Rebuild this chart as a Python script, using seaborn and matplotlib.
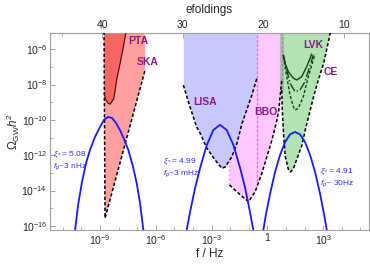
import numpy as np
import matplotlib
matplotlib.use('Agg')
import matplotlib.pyplot as plt
from matplotlib.ticker import FixedLocator, NullFormatter
import seaborn as sns

# all values are log10 of f [Hz] and log10 of Omega_GW h^2
pta_logf = [-8.78, -8.68, -8.57, -8.46, -8.35, -8.27, -8.19, -8.09, -7.92, -7.76, -7.60]
pta_logomega = [-8.49, -8.88, -9.05, -9.11, -8.94, -8.82, -8.32, -7.64, -6.79, -5.94, -5.00]

ska_logf = [-8.785, -8.731, -6.58, -6.58]
ska_logomega = [-5.00, -15.56, -7.19, -5.00]

lisa_logf = [-4.52, -4.16, -3.80, -3.62, -3.26, -2.81, -2.45, -2.27, -1.91, -1.64, -1.38, -0.84, -0.55]
lisa_logomega = [-8.03, -9.28, -10.41, -10.75, -11.59, -12.27, -12.74, -12.66, -12.08, -11.33, -10.24, -8.60, -7.58]

bbo_logf = [-2.04, -1.57, -1.02, -0.66, -0.30, -0.03, 0.24, 0.51, 0.61, 0.69, 0.77]
bbo_logomega = [-13.68, -14.14, -14.63, -14.06, -13.02, -12.08, -11.14, -10.01, -9.45, -8.60, -7.75]
bbo_split_logf = -0.55

ce_logf = [0.77, 0.77, 0.80, 0.87, 0.96, 1.12, 1.23, 1.39, 1.60, 1.86, 2.03, 2.48, 2.73, 3.02, 3.34, 3.38]
ce_logomega = [-5.00, -8.32, -9.45, -10.86, -12.08, -12.78, -12.95, -12.78, -12.16, -11.42, -10.58,
               -8.69, -7.75, -6.81, -5.27, -5.00]

lvk_o3_logf = [0.855, 0.946, 1.124, 1.392, 1.575, 1.844, 2.113, 2.382]
lvk_o3_logomega = [-6.32, -6.79, -7.27, -7.64, -7.74, -7.55, -6.98, -6.27]
lvk_o4_logf = [0.855, 1.038, 1.215, 1.484, 1.753, 2.022, 2.468]
lvk_o4_logomega = [-6.32, -7.17, -7.92, -8.40, -8.30, -7.83, -6.32]
lvk_design_logf = [0.855, 1.038, 1.215, 1.392, 1.484, 1.661, 1.930, 2.199, 2.559]
lvk_design_logomega = [-6.42, -7.55, -8.59, -9.25, -9.44, -9.34, -8.68, -7.55, -6.27]

gw1_logf = [-10.34, -10.18, -9.98, -9.75, -9.54, -9.27, -9.00, -8.79, -8.57, -8.36, -8.14, -7.93,
            -7.71, -7.48, -7.25, -7.03, -6.85, -6.67]
gw1_logomega = [-16.23, -14.82, -13.57, -12.44, -11.70, -10.96, -10.40, -10.00, -9.83, -9.89, -10.17,
                -10.57, -11.08, -11.70, -12.55, -13.57, -14.70, -16.23]
gw2_logf = [-4.34, -4.16, -3.89, -3.62, -3.26, -2.91, -2.55, -2.19, -1.83, -1.47, -1.20, -0.94, -0.76]
gw2_logomega = [-16.23, -15.21, -13.85, -12.72, -11.42, -10.57, -10.28, -10.57, -11.42, -12.72, -13.85,
                -15.21, -16.23]
gw3_logf = [-0.22, -0.075, 0.14, 0.41, 0.68, 0.95, 1.215, 1.484, 1.753, 2.02, 2.29, 2.56, 2.83, 3.04, 3.19]
gw3_logomega = [-16.23, -15.32, -14.19, -12.94, -11.98, -11.25, -10.82, -10.68, -10.82, -11.25, -11.98,
                -12.94, -14.19, -15.32, -16.23]

x_ticks = [-9, -6, -3, 0, 3]
x_tick_labels = [r'$10^{-9}$', r'$10^{-6}$', r'$10^{-3}$', '1', r'$10^{3}$']
y_ticks = [-16, -14, -12, -10, -8, -6]
efold_ticks = [10, 20, 30, 40]
efold_minor = [15, 25, 35, 45]
efold_ref_n = 25
efold_ref_f = 10 ** -2.376

sns.set_style('white')
plt.rcParams['font.family'] = ['Liberation Sans', 'DejaVu Sans']
plt.rcParams['mathtext.fontset'] = 'custom'
plt.rcParams['mathtext.rm'] = 'Liberation Sans'
plt.rcParams['mathtext.it'] = 'Liberation Sans:italic'
plt.rcParams['mathtext.bf'] = 'Liberation Sans:bold'


def p(v):
    return 10.0 ** np.asarray(v, dtype=float)


fig = plt.figure(figsize=(3.7, 2.65), dpi=100)
ax = fig.add_axes([0.1351, 0.1321, 0.8622, 0.7434])
ax.set_xscale('log')
ax.set_yscale('log')
top = p(-5.0)

# regions
ax.fill(p(ska_logf), p(ska_logomega), color='#ffa0a0', lw=0, zorder=1)
ax.fill_between(p(pta_logf), p(pta_logomega), top, color='#f76565', lw=0, zorder=1.5)
ax.fill_between(p(bbo_logf), p(bbo_logomega), top, color='#ffc8ff', lw=0, zorder=1)
ax.fill_between(p(lisa_logf), p(lisa_logomega), top, color='#c8c8fa', lw=0, zorder=1.5)
ax.fill(p(ce_logf), p(ce_logomega), color='#b3e3b3', lw=0, zorder=1)

dash = (0, (2.2, 1.4))
# region edges
ax.plot(p(ska_logf[:3]), p(ska_logomega[:3]), color='black', lw=1.1, ls=dash, zorder=3)
ax.plot(p(ska_logf[2:]), p(ska_logomega[2:]), color='#ffe4e4', lw=1.0, ls=dash, zorder=3)
ax.plot(p(pta_logf), p(pta_logomega), color='#4a0a0a', lw=0.8, zorder=3)
ax.plot(p(lisa_logf), p(lisa_logomega), color='black', lw=1.1, ls=dash, zorder=3)
ax.plot(p(bbo_logf), p(bbo_logomega), color='black', lw=1.1, ls=dash, zorder=3)
bbo_edge_top = np.interp(bbo_logf[0], lisa_logf, lisa_logomega)
ax.plot(p([bbo_logf[0], bbo_logf[0]]), p([bbo_logomega[0], bbo_edge_top]),
        color='#ff99ff', lw=0.9, ls=dash, zorder=2)
split_bottom = np.interp(bbo_split_logf, bbo_logf, bbo_logomega)
ax.plot(p([bbo_split_logf, bbo_split_logf]), [p(split_bottom), top],
        color='#e070f0', lw=0.9, ls=dash, zorder=2)
ax.plot(p(ce_logf[:2]), p(ce_logomega[:2]), color='#b8b8b8', lw=3.0, zorder=2)
ax.plot(p(ce_logf[:2]), p(ce_logomega[:2]), color='#909090', lw=0.9, ls=dash, zorder=2.2)
ax.plot(p(ce_logf[1:]), p(ce_logomega[1:]), color='black', lw=1.1, ls=dash, zorder=3)

# LVK curves
lvk_green = '#17401a'
sns.lineplot(x=p(lvk_o3_logf), y=p(lvk_o3_logomega), sort=False, estimator=None,
             color=lvk_green, lw=1.0, ax=ax, zorder=3)
sns.lineplot(x=p(lvk_o4_logf), y=p(lvk_o4_logomega), sort=False, estimator=None,
             color=lvk_green, lw=1.0, ls='-.', ax=ax, zorder=3)
sns.lineplot(x=p(lvk_design_logf), y=p(lvk_design_logomega), sort=False, estimator=None,
             color=lvk_green, lw=1.0, ls=dash, ax=ax, zorder=3)

# GW spectra
for lf, lo in [(gw1_logf, gw1_logomega), (gw2_logf, gw2_logomega), (gw3_logf, gw3_logomega)]:
    sns.lineplot(x=p(lf), y=p(lo), sort=False, estimator=None, color='#1a1aff', lw=1.3,
                 ax=ax, zorder=4)

ax.set_xlim(p(-11.69), p(5.46))
ax.set_ylim(p(-16.23), p(-5.08))

# labels for experiments
purple = '#8a1a8a'
for txt, lx, ly in [('PTA', -7.49, -5.53), ('SKA', -7.01, -6.72), ('LISA', -4.0, -8.98),
                    ('BBO', -0.72, -9.55), ('LVK', 1.91, -5.76), ('CE', 3.04, -7.28)]:
    ax.text(p(lx), p(ly), txt, color=purple, fontsize=7.5, fontweight='bold',
            ha='left', va='center', zorder=5)

blue = '#3030ff'
for l1, l2, lx, ly in [('5.08', '3 nHz', -11.53, -11.98), ('4.99', '3 mHz', -5.61, -12.37),
                       ('4.91', ' 30Hz', 2.83, -12.95)]:
    ax.text(p(lx), p(ly), r'$\xi_*$= ' + l1, color=blue, fontsize=6.0, ha='left', va='center', zorder=5)
    ax.text(p(lx), p(ly - 0.64), r'$f_p$~' + l2, color=blue, fontsize=6.0, ha='left', va='center', zorder=5)

frame = '#a0a0a0'
ax.set_xticks(p(x_ticks))
ax.set_xticklabels(x_tick_labels)
ax.xaxis.set_minor_locator(FixedLocator(p(np.arange(-11, 6))))
ax.xaxis.set_minor_formatter(NullFormatter())
ax.set_yticks(p(y_ticks))
ax.set_yticklabels([r'$10^{%d}$' % t for t in y_ticks])
ax.yaxis.set_minor_locator(FixedLocator(p(np.arange(-15, -4, 2))))
ax.yaxis.set_minor_formatter(NullFormatter())
ax.tick_params(which='both', direction='in', color=frame, labelsize=7.5, pad=2,
               bottom=True, left=True, top=False, right=False)
ax.tick_params(which='major', length=3.5, width=0.7)
ax.tick_params(which='minor', length=2, width=0.6)
for s in ax.spines.values():
    s.set_color(frame)
    s.set_linewidth(0.8)

ax.set_xlabel('f / Hz', fontsize=8.5)
ax.xaxis.set_label_coords(0.5, -0.09)
ax.set_ylabel(r'$\Omega_{\mathrm{GW}}h^2$', fontsize=8.5)
ax.yaxis.set_label_coords(-0.088, 0.5)


def f_to_n(f):
    f = np.asarray(f, dtype=float)
    with np.errstate(divide='ignore', invalid='ignore'):
        return efold_ref_n - np.log(f / efold_ref_f)


def n_to_f(n):
    return efold_ref_f * np.exp(efold_ref_n - np.asarray(n, dtype=float))


secax = ax.secondary_xaxis('top', functions=(f_to_n, n_to_f))
secax.set_xticks(efold_ticks, labels=[str(t) for t in efold_ticks])
secax.xaxis.set_minor_locator(FixedLocator(efold_minor))
secax.xaxis.set_minor_formatter(NullFormatter())
secax.tick_params(which='both', direction='in', color=frame, labelsize=7.5, pad=2)
secax.tick_params(which='major', length=3.5, width=0.7)
secax.tick_params(which='minor', length=2, width=0.6)
secax.spines['top'].set_color(frame)
secax.set_xlabel('efoldings', fontsize=8.5, labelpad=5.5)

fig.savefig('out.png', dpi=100)
